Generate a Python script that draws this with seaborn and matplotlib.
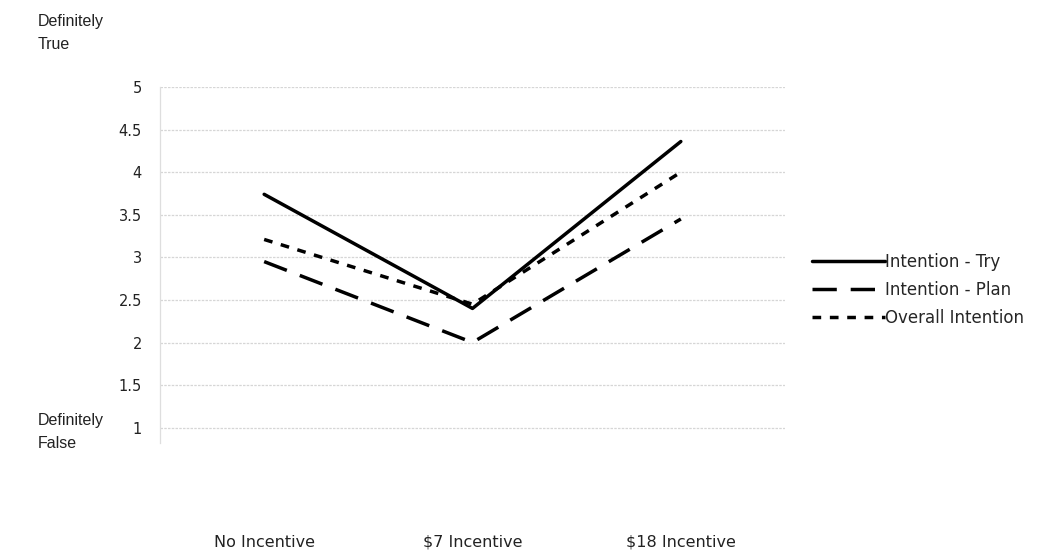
import matplotlib
matplotlib.use("Agg")
import matplotlib.pyplot as plt
import pandas as pd
import seaborn as sns

# data
conditions = ["No Incentive", "$7 Incentive", "$18 Incentive"]
intention_try = [3.74, 2.40, 4.36]
intention_plan = [2.95, 2.00, 3.45]
overall_intention = [3.21, 2.45, 4.00]
series_names = ["Intention - Try", "Intention - Plan", "Overall Intention"]
y_ticks = [1, 1.5, 2, 2.5, 3, 3.5, 4, 4.5, 5]
y_tick_labels = ["1", "1.5", "2", "2.5", "3", "3.5", "4", "4.5", "5"]

rows = []
for name, vals in zip(series_names, [intention_try, intention_plan, overall_intention]):
    for i, v in enumerate(vals):
        rows.append({"pos": i, "score": v, "series": name})
df = pd.DataFrame(rows)

sns.set_style("white")
plt.rcParams['font.family'] = ['DejaVu Sans']

fig = plt.figure(figsize=(10.37, 5.55), dpi=100)
ax = fig.add_axes([160 / 1037, 1 - 443 / 555, 625 / 1037, (443 - 87) / 555])

dashes = {"Intention - Try": "", "Intention - Plan": (7, 4), "Overall Intention": (2.5, 2.5)}
sns.lineplot(data=df, x="pos", y="score", hue="series", style="series",
             palette=["black"] * 3, dashes=dashes, linewidth=2.5, ax=ax,
             hue_order=series_names, style_order=series_names)

ax.set_xlim(-0.5, 2.5)
ax.set_ylim(0.82, 5.0)
ax.set_yticks(y_ticks)
ax.set_yticklabels(y_tick_labels, fontsize=10.5, color="#222222")
ax.set_xticks(range(len(conditions)))
ax.set_xticklabels(conditions, fontsize=11.5, color="#222222")
ax.tick_params(axis="x", length=0, pad=66)
ax.tick_params(axis="y", length=0, pad=13)
ax.set_xlabel("")
ax.set_ylabel("")

for y in y_ticks:
    ax.axhline(y, color="#d6d6d6", linewidth=0.9, linestyle=(0, (2, 1)), zorder=0)

for side in ["top", "right", "bottom"]:
    ax.spines[side].set_visible(False)
ax.spines["left"].set_color("#dedede")
ax.spines["left"].set_linewidth(0.9)

leg = ax.legend(loc="center left", bbox_to_anchor=(1.043, 0.43), frameon=False,
                fontsize=12, handlelength=4.4, handletextpad=0.0, labelspacing=0.62,
                borderpad=0, borderaxespad=0)
for line in leg.get_lines():
    line.set_linewidth(2.5)

fig.text(38 / 1037, 1 - 33 / 555, "Definitely\nTrue", fontsize=11.5,
         family="Liberation Sans", va="center", color="#222222", linespacing=1.7)
fig.text(38 / 1037, 1 - 432 / 555, "Definitely\nFalse", fontsize=11.5,
         family="Liberation Sans", va="center", color="#222222", linespacing=1.7)

fig.savefig("out.png", dpi=100, facecolor="white")
